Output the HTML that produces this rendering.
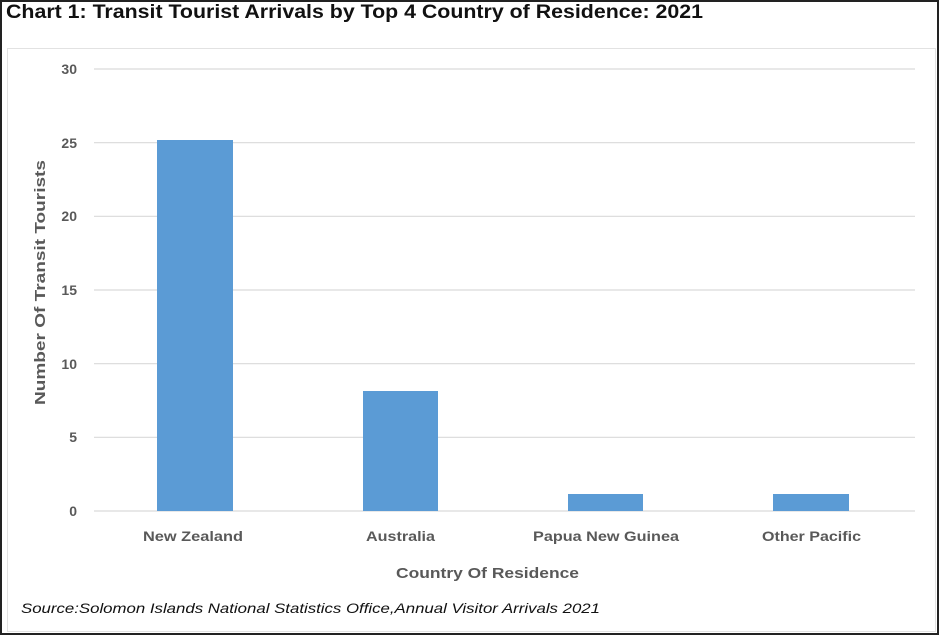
<!DOCTYPE html>
<html><head><meta charset="utf-8"><style>
html,body{margin:0;padding:0;background:#fff;}
svg{display:block;font-family:"Liberation Sans",sans-serif;}
</style></head><body>
<svg width="941" height="637" viewBox="0 0 941 637" xmlns="http://www.w3.org/2000/svg">
<rect x="0" y="0" width="941" height="637" fill="#fff"/>
<rect x="1" y="1" width="937" height="633" fill="none" stroke="#222" stroke-width="2"/>
<rect x="7.5" y="48.5" width="928" height="583" fill="none" stroke="#e2e2e2" stroke-width="1"/>
<text x="6" y="18" font-size="19" font-weight="bold" fill="#111" textLength="697" lengthAdjust="spacingAndGlyphs">Chart 1: Transit Tourist Arrivals by Top 4 Country of Residence: 2021</text>
<g stroke="#d9d9d9" stroke-width="1.2">
<line x1="94" x2="915" y1="69" y2="69"/>
<line x1="94" x2="915" y1="142.7" y2="142.7"/>
<line x1="94" x2="915" y1="216.3" y2="216.3"/>
<line x1="94" x2="915" y1="290" y2="290"/>
<line x1="94" x2="915" y1="363.7" y2="363.7"/>
<line x1="94" x2="915" y1="437.3" y2="437.3"/>
<line x1="94" x2="915" y1="511" y2="511"/>
</g>
<g font-size="14" font-weight="bold" fill="#595959" text-anchor="end">
<text x="77" y="74">30</text><text x="77" y="148">25</text><text x="77" y="221">20</text>
<text x="77" y="295">15</text><text x="77" y="369">10</text><text x="77" y="442">5</text><text x="77" y="516">0</text>
</g>
<g fill="#5b9bd5">
<rect x="157" y="140" width="76" height="371"/>
<rect x="363" y="391" width="75" height="120"/>
<rect x="568" y="494" width="75" height="17"/>
<rect x="773" y="494" width="76" height="17"/>
</g>
<g font-size="14" font-weight="bold" fill="#595959">
<text x="143" y="541" textLength="100" lengthAdjust="spacingAndGlyphs">New Zealand</text>
<text x="366" y="541" textLength="69" lengthAdjust="spacingAndGlyphs">Australia</text>
<text x="533" y="541" textLength="146" lengthAdjust="spacingAndGlyphs">Papua New Guinea</text>
<text x="762" y="541" textLength="99" lengthAdjust="spacingAndGlyphs">Other Pacific</text>
<text x="396" y="578" font-size="15" textLength="183" lengthAdjust="spacingAndGlyphs">Country Of Residence</text>
<text transform="translate(45,405) rotate(-90)" font-size="15" textLength="245" lengthAdjust="spacingAndGlyphs">Number Of Transit Tourists</text>
</g>
<text x="21" y="613" font-size="14" font-style="italic" fill="#111" textLength="579" lengthAdjust="spacingAndGlyphs">Source:Solomon Islands National Statistics Office,Annual Visitor Arrivals 2021</text>
</svg>
</body></html>
